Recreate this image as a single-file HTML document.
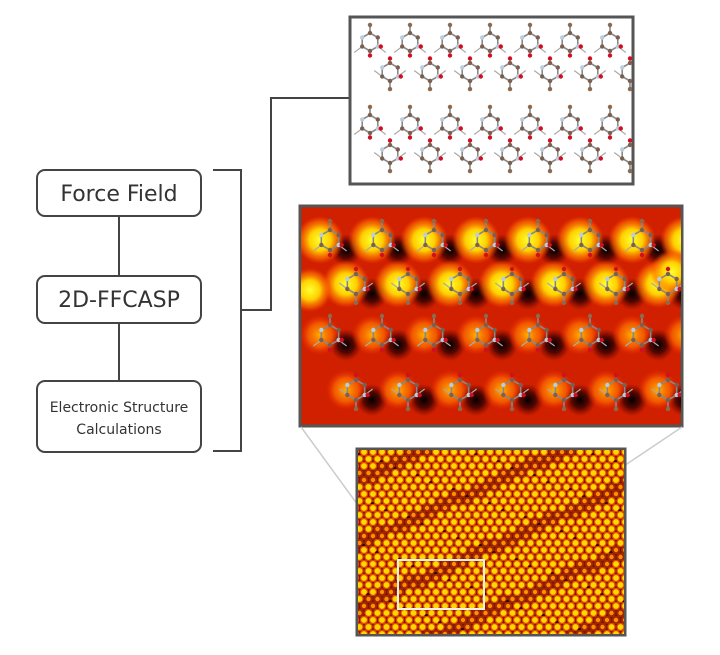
<!DOCTYPE html>
<html><head><meta charset="utf-8"><style>
body{margin:0;background:#fff;width:720px;height:655px;overflow:hidden}
svg{display:block}
text{font-family:"DejaVu Sans","Liberation Sans",sans-serif;fill:#333}
</style></head><body>
<svg id="fig" width="720" height="655" viewBox="0 0 720 655">
<defs>
<radialGradient id="gy"><stop offset="0" stop-color="#ffff30"/><stop offset="0.45" stop-color="#ffd000"/><stop offset="0.8" stop-color="#ff7000" stop-opacity="0.6"/><stop offset="1" stop-color="#ff4000" stop-opacity="0"/></radialGradient>
<radialGradient id="go"><stop offset="0" stop-color="#ffb000"/><stop offset="0.6" stop-color="#ff7000" stop-opacity="0.7"/><stop offset="1" stop-color="#ff3000" stop-opacity="0"/></radialGradient>
<radialGradient id="gd"><stop offset="0" stop-color="#000"/><stop offset="0.5" stop-color="#300" stop-opacity="0.8"/><stop offset="1" stop-color="#600" stop-opacity="0"/></radialGradient>
<clipPath id="cm"><rect x="301" y="207" width="380" height="218"/></clipPath>
<clipPath id="cb"><rect x="358" y="450" width="266" height="184"/></clipPath>
<clipPath id="ct"><rect x="351" y="18" width="281" height="165"/></clipPath>
</defs>

<g fill="none" stroke="#444" stroke-width="2">
<line x1="119" y1="216" x2="119" y2="275"/>
<line x1="119" y1="323" x2="119" y2="380"/>
<rect x="37" y="170" width="164" height="46" rx="8" fill="#fff"/>
<rect x="37" y="276" width="164" height="47" rx="8" fill="#fff"/>
<rect x="37" y="381" width="164" height="71" rx="8" fill="#fff"/>
<polyline points="213,170 241,170 241,451 213,451"/>
<polyline points="241,310 271,310 271,98 349,98"/>
</g>
<text x="119" y="201" font-size="22" text-anchor="middle">Force Field</text>
<text x="119" y="307" font-size="22" text-anchor="middle">2D-FFCASP</text>
<text x="119" y="412" font-size="14" text-anchor="middle">Electronic Structure</text>
<text x="119" y="434" font-size="14" text-anchor="middle">Calculations</text>

<rect x="350" y="17" width="283" height="167" fill="#fff" stroke="#555" stroke-width="3"/>
<g id="mol" clip-path="url(#ct)"></g>

<rect x="300" y="206" width="382" height="220" fill="#d02000" stroke="#555" stroke-width="3"/>
<g id="mid" clip-path="url(#cm)"></g>

<g stroke="#ccc" stroke-width="1.5">
<line x1="301" y1="427" x2="398" y2="560"/>
<line x1="682" y1="427" x2="484" y2="560"/>
</g>

<rect x="357" y="449" width="268" height="186" fill="#7a1000" stroke="#555" stroke-width="3"/>
<g id="bot" clip-path="url(#cb)"></g>
<rect x="398" y="560" width="86" height="49" fill="none" stroke="#eee" stroke-width="2"/>
</svg>
<script>
const NS='http://www.w3.org/2000/svg';
function el(p,t,a){const e=document.createElementNS(NS,t);for(const k in a)e.setAttribute(k,a[k]);p.appendChild(e);return e;}
const bot=document.getElementById('bot');
for(let r=0;r<27;r++){for(let c=0;c<32;c++){
 const x=355+c*9+(r%2)*4.5, y=452+r*7;
 const dark=((x*0.05+y*0.11)%7<1.5);
 el(bot,'circle',{cx:x,cy:y,r:4.2,fill:dark?'#a02800':'#e04a00'});
 el(bot,'circle',{cx:x,cy:y,r:dark?2.2:2.9,fill:dark?'#ff9000':'#ffd800'});
 if((r*7+c*3)%13===0) el(bot,'circle',{cx:x+4.5,cy:y+3.5,r:2.5,fill:'#200000'});
}}
const mid=document.getElementById('mid');
const rowsY=[240,284,335,390];
for(let i=0;i<4;i++){
 for(let c=0;c<8;c++){
  const off=(i%2)?26:0;
  const x=320+c*52+off, y=rowsY[i];
  el(mid,'circle',{cx:x+26,cy:y+10,r:16,fill:'url(#gd)'});
  el(mid,'circle',{cx:x,cy:y,r:i<2?24:20,fill:i<2?'url(#gy)':'url(#go)'});
 }
}
el(mid,'circle',{cx:310,cy:290,r:22,fill:'url(#gy)'});
el(mid,'circle',{cx:672,cy:272,r:22,fill:'url(#gy)'});
function molecule(g,cx,cy,s,flip){
 const pts=[];for(let k=0;k<6;k++){const a=Math.PI/6+k*Math.PI/3;pts.push([cx+s*Math.cos(a),cy+s*Math.sin(a)]);}
 el(g,'polygon',{points:pts.map(p=>p.join(',')).join(' '),fill:'none',stroke:'#888',"stroke-width":1.6});
 const d=flip?-1:1;
 el(g,'line',{x1:cx,y1:cy-s*d,x2:cx,y2:cy-s*1.9*d,stroke:'#888',"stroke-width":1.6});
 el(g,'line',{x1:pts[0][0],y1:pts[0][1],x2:pts[0][0]+8,y2:pts[0][1]+6*d,stroke:'#aaa',"stroke-width":1.2});
 el(g,'line',{x1:pts[2][0],y1:pts[2][1],x2:pts[2][0]-8,y2:pts[2][1]+6*d,stroke:'#aaa',"stroke-width":1.2});
 pts.forEach((p,k)=>el(g,'circle',{cx:p[0],cy:p[1],r:2.2,fill:k%3===0?'#bcd':'#7a6050'}));
 el(g,'circle',{cx:cx,cy:cy-s*1.9*d,r:2.2,fill:'#8a6a50'});
 el(g,'circle',{cx:pts[0][0]+3,cy:pts[0][1],r:2.2,fill:'#d01020'});
 el(g,'circle',{cx:cx,cy:cy+s*1.5*d,r:2.2,fill:'#d01020'});
}
const mol=document.getElementById('mol');
for(let b=0;b<2;b++)for(let r=0;r<2;r++)for(let c=0;c<7;c++){
 molecule(mol,370+c*40+(r?20:0),42+r*30+b*82,9,r===1);
}
for(let r=0;r<4;r++)for(let c=0;c<7;c++){
 const x=330+c*52+((r%2)?26:0), y=rowsY[r];
 if(x<680) molecule(mid,x,y,10,r%2===1);
}
</script>
</body></html>
